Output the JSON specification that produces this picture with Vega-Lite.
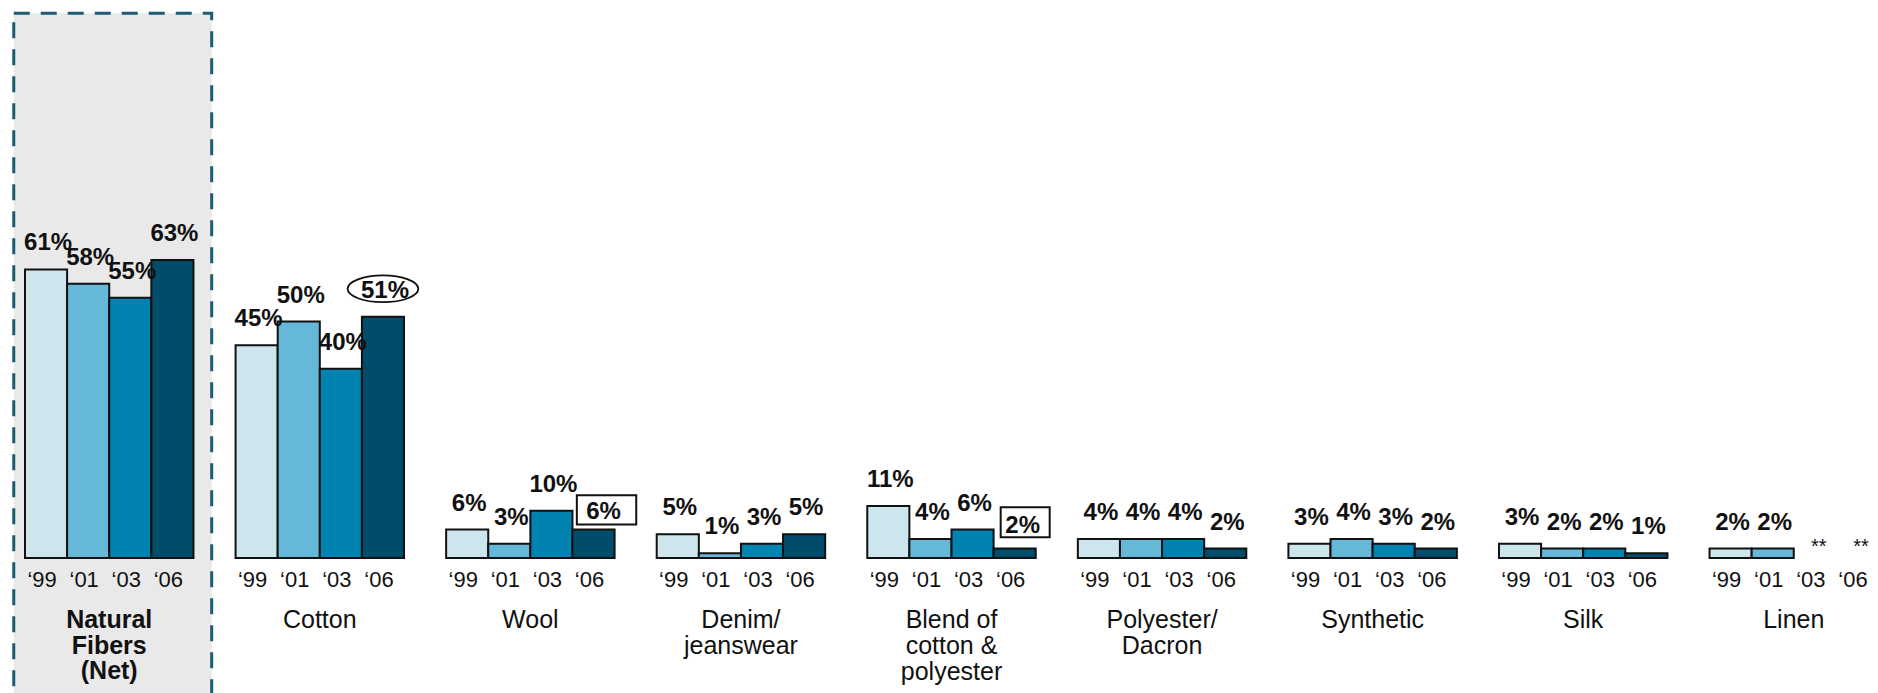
{
  "$schema": "https://vega.github.io/schema/vega-lite/v6.json",
  "width": 1853,
  "height": 693,
  "autosize": {"type": "none"},
  "padding": {"left": 25, "right": 0, "top": 0, "bottom": 0},
  "background": "white",
  "config": {"view": {"stroke": null}, "font": "Liberation Sans"},
  "data": {
    "values": [
      {"group": "Natural\nFibers\n(Net)", "year": "‘99", "value": 0.61},
      {"group": "Natural\nFibers\n(Net)", "year": "‘01", "value": 0.58},
      {"group": "Natural\nFibers\n(Net)", "year": "‘03", "value": 0.55},
      {"group": "Natural\nFibers\n(Net)", "year": "‘06", "value": 0.63},
      {"group": "Cotton", "year": "‘99", "value": 0.45},
      {"group": "Cotton", "year": "‘01", "value": 0.50},
      {"group": "Cotton", "year": "‘03", "value": 0.40},
      {"group": "Cotton", "year": "‘06", "value": 0.51, "highlight": "ellipse"},
      {"group": "Wool", "year": "‘99", "value": 0.06},
      {"group": "Wool", "year": "‘01", "value": 0.03},
      {"group": "Wool", "year": "‘03", "value": 0.10},
      {"group": "Wool", "year": "‘06", "value": 0.06, "highlight": "box"},
      {"group": "Denim/\njeanswear", "year": "‘99", "value": 0.05},
      {"group": "Denim/\njeanswear", "year": "‘01", "value": 0.01},
      {"group": "Denim/\njeanswear", "year": "‘03", "value": 0.03},
      {"group": "Denim/\njeanswear", "year": "‘06", "value": 0.05},
      {"group": "Blend of\ncotton &\npolyester", "year": "‘99", "value": 0.11},
      {"group": "Blend of\ncotton &\npolyester", "year": "‘01", "value": 0.04},
      {"group": "Blend of\ncotton &\npolyester", "year": "‘03", "value": 0.06},
      {"group": "Blend of\ncotton &\npolyester", "year": "‘06", "value": 0.02, "highlight": "box"},
      {"group": "Polyester/\nDacron", "year": "‘99", "value": 0.04},
      {"group": "Polyester/\nDacron", "year": "‘01", "value": 0.04},
      {"group": "Polyester/\nDacron", "year": "‘03", "value": 0.04},
      {"group": "Polyester/\nDacron", "year": "‘06", "value": 0.02},
      {"group": "Synthetic", "year": "‘99", "value": 0.03},
      {"group": "Synthetic", "year": "‘01", "value": 0.04},
      {"group": "Synthetic", "year": "‘03", "value": 0.03},
      {"group": "Synthetic", "year": "‘06", "value": 0.02},
      {"group": "Silk", "year": "‘99", "value": 0.03},
      {"group": "Silk", "year": "‘01", "value": 0.02},
      {"group": "Silk", "year": "‘03", "value": 0.02},
      {"group": "Silk", "year": "‘06", "value": 0.01},
      {"group": "Linen", "year": "‘99", "value": 0.02},
      {"group": "Linen", "year": "‘01", "value": 0.02},
      {"group": "Linen", "year": "‘03", "value": null, "note": "**"},
      {"group": "Linen", "year": "‘06", "value": null, "note": "**"}
    ]
  },
  "encoding": {
    "x": {
      "field": "group",
      "type": "nominal",
      "sort": null,
      "scale": {"paddingInner": 0.2, "paddingOuter": 0},
      "axis": null
    }
  },
  "layer": [
    {
      "transform": [{"filter": "datum.year === '‘99' && indexof(datum.group, 'Natural') === 0"}],
      "mark": {"type": "bar", "width": {"band": 1.175}, "xOffset": 3.5, "fill": "#e9e9e9", "stroke": "#1d5b74", "strokeWidth": 3, "strokeDash": [16, 11]},
      "encoding": {
        "y": {"datum": 1.1516, "type": "quantitative", "scale": {"domain": [-0.2854, 1.1797], "nice": false, "zero": false}, "axis": null},
        "y2": {"datum": -0.34}
      }
    },
    {
      "mark": {"type": "bar", "stroke": "#111111", "strokeWidth": 2},
      "encoding": {
        "xOffset": {"field": "year", "type": "nominal", "sort": ["‘99", "‘01", "‘03", "‘06"], "scale": {"paddingInner": 0, "paddingOuter": 0}},
        "y": {"field": "value", "type": "quantitative", "scale": {"domain": [-0.2854, 1.1797], "nice": false, "zero": false}, "axis": null},
        "y2": {"datum": 0},
        "color": {"field": "year", "type": "nominal", "scale": {"domain": ["‘99", "‘01", "‘03", "‘06"], "range": ["#cde6ee", "#66b8d8", "#0083b0", "#004d6b"]}, "legend": null}
      }
    },
    {
      "transform": [{"filter": "datum.highlight === 'box' && datum.group === 'Wool'"}],
      "encoding": {
        "xOffset": {"field": "year", "type": "nominal", "sort": ["‘99", "‘01", "‘03", "‘06"]},
        "y": {"field": "value", "type": "quantitative"}
      },
      "layer": [
        {"mark": {"type": "point", "shape": "M-0.562,-0.493 L1.438,-0.493 L1.438,0.493 L-0.562,0.493 Z", "size": 3528, "filled": true, "fill": "white", "stroke": "#111111", "strokeWidth": 2, "opacity": 1, "yOffset": -19.7}},
        {"mark": {"type": "text", "fontSize": 24, "fontWeight": "bold", "color": "#111111", "dx": 10, "dy": -11, "baseline": "alphabetic"}, "encoding": {"text": {"field": "value", "type": "quantitative", "format": ".0%"}}}
      ]
    },
    {
      "transform": [{"filter": "datum.highlight === 'box' && indexof(datum.group, 'Blend') === 0"}],
      "encoding": {
        "xOffset": {"field": "year", "type": "nominal", "sort": ["‘99", "‘01", "‘03", "‘06"]},
        "y": {"field": "value", "type": "quantitative"}
      },
      "layer": [
        {"mark": {"type": "point", "shape": "M-0.571,-0.612 L1.429,-0.612 L1.429,0.612 L-0.571,0.612 Z", "size": 2401, "filled": true, "fill": "white", "stroke": "#111111", "strokeWidth": 2, "opacity": 1, "yOffset": -26.3}},
        {"mark": {"type": "text", "fontSize": 24, "fontWeight": "bold", "color": "#111111", "dx": 8, "dy": -16, "baseline": "alphabetic"}, "encoding": {"text": {"field": "value", "type": "quantitative", "format": ".0%"}}}
      ]
    },
    {
      "transform": [{"filter": "datum.highlight === 'ellipse'"}],
      "mark": {"type": "point", "shape": "M-1,0 A1,0.378 0 1,1 1,0 A1,0.378 0 1,1 -1,0 Z", "size": 5000, "filled": false, "stroke": "#111111", "strokeWidth": 1.8, "opacity": 1, "yOffset": -28},
      "encoding": {
        "xOffset": {"field": "year", "type": "nominal", "sort": ["‘99", "‘01", "‘03", "‘06"]},
        "y": {"field": "value", "type": "quantitative"}
      }
    },
    {
      "transform": [{"filter": "isValid(datum.value) && datum.highlight !== 'box'"}],
      "mark": {"type": "text", "fontSize": 24, "fontWeight": "bold", "color": "#111111", "dx": 2, "dy": -19, "baseline": "alphabetic"},
      "encoding": {
        "xOffset": {"field": "year", "type": "nominal", "sort": ["‘99", "‘01", "‘03", "‘06"]},
        "y": {"field": "value", "type": "quantitative"},
        "text": {"field": "value", "type": "quantitative", "format": ".0%"}
      }
    },
    {
      "mark": {"type": "text", "fontSize": 22, "color": "#111111", "dx": -4, "dy": 29, "baseline": "alphabetic"},
      "encoding": {
        "xOffset": {"field": "year", "type": "nominal", "sort": ["‘99", "‘01", "‘03", "‘06"]},
        "y": {"datum": 0, "type": "quantitative"},
        "text": {"field": "year", "type": "nominal"}
      }
    },
    {
      "transform": [{"filter": "isValid(datum.note)"}],
      "mark": {"type": "text", "fontSize": 20, "color": "#111111", "dx": 4, "dy": -5, "baseline": "alphabetic"},
      "encoding": {
        "xOffset": {"field": "year", "type": "nominal", "sort": ["‘99", "‘01", "‘03", "‘06"]},
        "y": {"datum": 0, "type": "quantitative"},
        "text": {"field": "note", "type": "nominal"}
      }
    },
    {
      "transform": [{"filter": "datum.year === '‘99' && indexof(datum.group, 'Natural') === 0"}],
      "mark": {"type": "text", "fontSize": 25, "fontWeight": "bold", "color": "#111111", "dy": 70, "baseline": "alphabetic", "lineBreak": "\n", "lineHeight": 25.5},
      "encoding": {
        "y": {"datum": 0, "type": "quantitative"},
        "text": {"field": "group", "type": "nominal"}
      }
    },
    {
      "transform": [{"filter": "datum.year === '‘99' && indexof(datum.group, 'Natural') !== 0"}],
      "mark": {"type": "text", "fontSize": 25, "color": "#111111", "dy": 70, "baseline": "alphabetic", "lineBreak": "\n", "lineHeight": 26},
      "encoding": {
        "y": {"datum": 0, "type": "quantitative"},
        "text": {"field": "group", "type": "nominal"}
      }
    }
  ]
}
